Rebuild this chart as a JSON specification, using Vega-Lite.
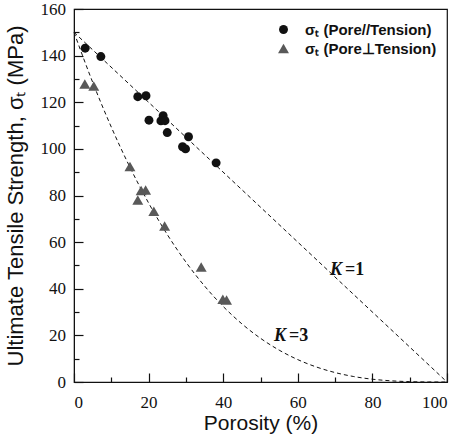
{
  "$schema": "https://vega.github.io/schema/vega-lite/v6.json",
  "width": 373,
  "height": 373,
  "autosize": {"type": "none"},
  "padding": {"left": 74, "top": 9, "right": 14, "bottom": 55},
  "background": "white",
  "config": {
    "view": {"stroke": "#111111", "strokeWidth": 1.2},
    "axis": {
      "grid": false,
      "domainColor": "#111111",
      "tickColor": "#111111",
      "tickWidth": 1.2,
      "labelFont": "Liberation Serif",
      "labelFontSize": 17,
      "labelColor": "#111111",
      "titleFont": "Liberation Sans",
      "titleFontSize": 21,
      "titleFontWeight": "normal",
      "titleColor": "#111111"
    }
  },
  "datasets": {
    "curves": [
      {"K": "K1", "p": 0, "s": 150},
      {"K": "K1", "p": 100, "s": 0},
      {"K": "K3", "p": 0, "s": 150},
      {"K": "K3", "p": 5, "s": 128.6},
      {"K": "K3", "p": 10, "s": 109.35},
      {"K": "K3", "p": 15, "s": 92.12},
      {"K": "K3", "p": 20, "s": 76.8},
      {"K": "K3", "p": 25, "s": 63.28},
      {"K": "K3", "p": 30, "s": 51.45},
      {"K": "K3", "p": 35, "s": 41.19},
      {"K": "K3", "p": 40, "s": 32.4},
      {"K": "K3", "p": 45, "s": 24.96},
      {"K": "K3", "p": 50, "s": 18.75},
      {"K": "K3", "p": 55, "s": 13.67},
      {"K": "K3", "p": 60, "s": 9.6},
      {"K": "K3", "p": 65, "s": 6.43},
      {"K": "K3", "p": 70, "s": 4.05},
      {"K": "K3", "p": 75, "s": 2.34},
      {"K": "K3", "p": 80, "s": 1.2},
      {"K": "K3", "p": 85, "s": 0.51},
      {"K": "K3", "p": 90, "s": 0.15},
      {"K": "K3", "p": 95, "s": 0.02},
      {"K": "K3", "p": 100, "s": 0}
    ],
    "points": [
      {"series": "σₜ (Pore//Tension)", "p": 3.0, "s": 143.2},
      {"series": "σₜ (Pore//Tension)", "p": 7.2, "s": 139.6},
      {"series": "σₜ (Pore//Tension)", "p": 17.1, "s": 122.4},
      {"series": "σₜ (Pore//Tension)", "p": 19.3, "s": 122.8},
      {"series": "σₜ (Pore//Tension)", "p": 20.1, "s": 112.3},
      {"series": "σₜ (Pore//Tension)", "p": 23.9, "s": 114.2},
      {"series": "σₜ (Pore//Tension)", "p": 23.3, "s": 112.0},
      {"series": "σₜ (Pore//Tension)", "p": 24.4, "s": 112.1},
      {"series": "σₜ (Pore//Tension)", "p": 25.0, "s": 107.0},
      {"series": "σₜ (Pore//Tension)", "p": 30.7, "s": 105.2},
      {"series": "σₜ (Pore//Tension)", "p": 29.1, "s": 100.9},
      {"series": "σₜ (Pore//Tension)", "p": 29.9, "s": 100.0},
      {"series": "σₜ (Pore//Tension)", "p": 38.1, "s": 94.0},
      {"series": "σₜ (Pore⊥Tension)", "p": 2.9, "s": 127.8},
      {"series": "σₜ (Pore⊥Tension)", "p": 5.3, "s": 127.0},
      {"series": "σₜ (Pore⊥Tension)", "p": 15.0, "s": 92.4},
      {"series": "σₜ (Pore⊥Tension)", "p": 18.0, "s": 82.1},
      {"series": "σₜ (Pore⊥Tension)", "p": 19.2, "s": 82.4},
      {"series": "σₜ (Pore⊥Tension)", "p": 17.1, "s": 78.1},
      {"series": "σₜ (Pore⊥Tension)", "p": 21.4, "s": 73.2},
      {"series": "σₜ (Pore⊥Tension)", "p": 24.3, "s": 66.9},
      {"series": "σₜ (Pore⊥Tension)", "p": 34.1, "s": 49.3},
      {"series": "σₜ (Pore⊥Tension)", "p": 39.9, "s": 35.5},
      {"series": "σₜ (Pore⊥Tension)", "p": 40.9, "s": 35.2}
    ],
    "labels": [
      {"p": 72.1, "s": 48.0, "k": "K", "eq": "=1"},
      {"p": 57.1, "s": 19.7, "k": "K", "eq": "=3"}
    ]
  },
  "encoding": {
    "x": {"field": "p", "type": "quantitative", "scale": {"domain": [0, 100], "nice": false},
      "axis": {"orient": "bottom", "title": "Porosity (%)", "values": [0,10,20,30,40,50,60,70,80,90,100],
        "labelExpr": "datum.value % 20 === 0 ? datum.label : ''",
        "tickSize": {"condition": {"test": "datum.value % 20 === 0", "value": -9}, "value": -5},
        "labelPadding": 21, "titleX": 186.5, "titleY": 47, "titleBaseline": "alphabetic", "titleAlign": "center"}},
    "y": {"field": "s", "type": "quantitative", "scale": {"domain": [0, 160], "nice": false},
      "axis": {"orient": "left", "title": "Ultimate Tensile Strength, σₜ (MPa)", "values": [0,10,20,30,40,50,60,70,80,90,100,110,120,130,140,150,160],
        "labelExpr": "datum.value % 20 === 0 ? datum.label : ''",
        "tickSize": {"condition": {"test": "datum.value % 20 === 0", "value": -9}, "value": -5},
        "labelPadding": 17.5, "titleX": -52, "titleY": 186.5, "titleAngle": 270, "titleFontSize": 22, "titleBaseline": "alphabetic", "titleAlign": "center"}}
  },
  "layer": [
    {
      "data": {"name": "curves"},
      "mark": {"type": "line", "color": "#111111", "strokeWidth": 1, "strokeDash": [4, 3], "interpolate": "monotone"},
      "encoding": {
        "detail": {"field": "K", "type": "nominal"}
      }
    },
    {
      "data": {"name": "points"},
      "mark": {"type": "point", "filled": true, "opacity": 1},
      "encoding": {
        "color": {"field": "series", "type": "nominal",
          "scale": {"domain": ["σₜ (Pore//Tension)", "σₜ (Pore⊥Tension)"], "range": ["#111111", "#595959"]},
          "legend": {"orient": "none", "legendX": 202, "legendY": 13, "title": null, "padding": 0,
            "labelFont": "Liberation Sans", "labelFontSize": 15, "labelFontWeight": "bold", "labelColor": "#111111",
            "symbolSize": 90, "labelOffset": 14, "rowPadding": 3, "symbolStrokeWidth": 0}},
        "shape": {"field": "series", "type": "nominal",
          "scale": {"domain": ["σₜ (Pore//Tension)", "σₜ (Pore⊥Tension)"], "range": ["circle", "triangle-up"]},
          "legend": {"orient": "none", "legendX": 202, "legendY": 13, "title": null, "padding": 0,
            "labelFont": "Liberation Sans", "labelFontSize": 15, "labelFontWeight": "bold", "labelColor": "#111111",
            "symbolSize": 90, "labelOffset": 14, "rowPadding": 3, "symbolStrokeWidth": 0}},
        "size": {"field": "series", "type": "nominal",
          "scale": {"domain": ["σₜ (Pore//Tension)", "σₜ (Pore⊥Tension)"], "range": [80, 120]},
          "legend": null}
      }
    },
    {
      "data": {"name": "labels"},
      "mark": {"type": "text", "font": "Liberation Serif", "fontSize": 18, "fontWeight": "bold", "fontStyle": "italic", "align": "right", "baseline": "middle", "dx": -1, "color": "#111111"},
      "encoding": {
        "text": {"field": "k"}
      }
    },
    {
      "data": {"name": "labels"},
      "mark": {"type": "text", "font": "Liberation Serif", "fontSize": 18, "fontWeight": "bold", "align": "left", "baseline": "middle", "dx": 2, "color": "#111111"},
      "encoding": {
        "text": {"field": "eq"}
      }
    }
  ]
}
